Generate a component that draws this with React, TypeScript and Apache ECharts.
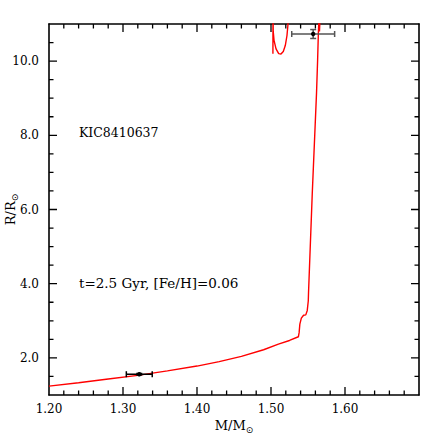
import React, { useEffect, useRef } from "react";
import * as echarts from "echarts";

// Evolutionary track (M/Msun, R/Rsun), in drawing order
const trackMass = [
  1.2, 1.24, 1.28, 1.32, 1.36, 1.4, 1.43, 1.46, 1.49, 1.51, 1.525, 1.537,
  1.538, 1.539, 1.541, 1.544, 1.547, 1.549, 1.5504, 1.5507, 1.5558, 1.5615, 1.563, 1.564, 1.5645, 1.565,
  1.5665, 1.5655, 1.5668,
  1.523, 1.523, 1.5216, 1.5193, 1.5166, 1.5135, 1.5104, 1.5068, 1.5041, 1.503, 1.5027,
  1.5026, 1.5028,
];
const trackRadius = [
  1.24, 1.33, 1.43, 1.53, 1.65, 1.78, 1.9, 2.04, 2.22, 2.37, 2.47, 2.57,
  2.68, 2.91, 3.07, 3.15, 3.16, 3.28, 3.54, 3.75, 6.45, 9.13, 10.03, 10.75, 11.0, 11.4,
  11.4, 10.8, 11.4,
  11.4, 11.0, 10.69, 10.42, 10.26, 10.19, 10.2, 10.33, 10.56, 10.8, 11.4,
  10.2, 11.4,
];

// Observations: [mass, radius, massErr, radiusErr]
const obsSeismic = [[1.557, 10.73, 0.029, 0.12]];
const obsModel = [[1.322, 1.56, 0.0175, 0.02]];

// Axis ranges, label steps and tick positions
const X_MIN = 1.2, X_MAX = 1.7, X_MAJOR = 0.1;
const Y_MIN = 1, Y_MAX = 11;
const Y_LABEL_MIN = 2, Y_LABEL_MAX = 10, Y_MAJOR = 2;
const xMajorTicks = [1.3, 1.4, 1.5, 1.6];
const xMinorTicks = [
  1.22, 1.24, 1.26, 1.28, 1.32, 1.34, 1.36, 1.38, 1.42, 1.44, 1.46, 1.48,
  1.52, 1.54, 1.56, 1.58, 1.62, 1.64, 1.66, 1.68,
];
const yMajorTicks = [2, 4, 6, 8, 10];
const yMinorTicks = [1.5, 2.5, 3, 3.5, 4.5, 5, 5.5, 6.5, 7, 7.5, 8.5, 9, 9.5, 10.5];

const starName = "KIC8410637";
const modelLabel = "t=2.5 Gyr, [Fe/H]=0.06";

const FONT = "DejaVu Serif";

// layout
const G_LEFT = 49, G_RIGHT = 24, G_TOP = 24, G_BOTTOM = 48, SIZE = 443;
const Y_UNIT_PX = (SIZE - G_TOP - G_BOTTOM) / (Y_MAX - Y_MIN);
const X_UNIT_PX = (SIZE - G_LEFT - G_RIGHT) / (X_MAX - X_MIN);
const MAJOR_LEN = 8, MINOR_LEN = 4.5;

function errRender(color: string) {
  return (params: any, api: any) => {
    const x = api.value(0), y = api.value(1), ex = api.value(2), ey = api.value(3);
    const c = api.coord([x, y]);
    const l = api.coord([x - ex, y]);
    const r = api.coord([x + ex, y]);
    const t = api.coord([x, y + ey]);
    const b = api.coord([x, y - ey]);
    const st = { stroke: color, lineWidth: 1.5 };
    const cap = 3;
    return {
      type: "group",
      children: [
        { type: "line", shape: { x1: l[0], y1: l[1], x2: r[0], y2: r[1] }, style: st },
        { type: "line", shape: { x1: l[0], y1: l[1] - cap, x2: l[0], y2: l[1] + cap }, style: st },
        { type: "line", shape: { x1: r[0], y1: r[1] - cap, x2: r[0], y2: r[1] + cap }, style: st },
        { type: "line", shape: { x1: t[0], y1: t[1], x2: b[0], y2: b[1] }, style: st },
        { type: "line", shape: { x1: t[0] - cap, y1: t[1], x2: t[0] + cap, y2: t[1] }, style: st },
        { type: "line", shape: { x1: b[0] - cap, y1: b[1], x2: b[0] + cap, y2: b[1] }, style: st },
        { type: "circle", shape: { cx: c[0], cy: c[1], r: 2.2 }, style: { fill: "#000" } },
      ],
    };
  };
}

// Tick marks as short segments of a line series (gaps between them), in data units
function buildTickSegments() {
  const gap = [NaN, NaN];
  const out: number[][] = [];
  const xTick = (v: number, px: number) => {
    const dy = px / Y_UNIT_PX;
    out.push([v, Y_MIN], [v, Y_MIN + dy], gap, [v, Y_MAX], [v, Y_MAX - dy], gap);
  };
  const yTick = (v: number, px: number) => {
    const dx = px / X_UNIT_PX;
    out.push([X_MIN, v], [X_MIN + dx, v], gap, [X_MAX, v], [X_MAX - dx, v], gap);
  };
  xMajorTicks.forEach((v) => xTick(v, MAJOR_LEN));
  xMinorTicks.forEach((v) => xTick(v, MINOR_LEN));
  yMajorTicks.forEach((v) => yTick(v, MAJOR_LEN));
  yMinorTicks.forEach((v) => yTick(v, MINOR_LEN));
  return out;
}

export default function App() {
  const ref = useRef<HTMLDivElement>(null);
  useEffect(() => {
    if (!ref.current) return;
    const chart = echarts.init(ref.current, null, { renderer: "svg" });
    const axisLine = { show: true, onZero: false, lineStyle: { color: "#000", width: 1.6 } };
    const labelStyle = { fontFamily: FONT, fontSize: 12, color: "#000" };
    const nameRich = {
      a: { fontFamily: FONT, fontSize: 13, color: "#000", lineHeight: 14, verticalAlign: "top" },
      s: { fontFamily: "DejaVu Sans", fontSize: 9, color: "#000", lineHeight: 10, verticalAlign: "top", padding: [6, 0, 0, 0] },
    };

    const xAxis: any[] = [
      {
        type: "value", gridIndex: 0, position: "bottom", min: X_MIN, max: X_MAX, interval: X_MAJOR,
        axisLine, splitLine: { show: false }, axisTick: { show: false },
        axisLabel: { show: true, margin: 8, formatter: (v: number) => (v > 1.65 ? "" : v.toFixed(2)), ...labelStyle },
        name: "{a|M/M}{s|⊙}", nameLocation: "middle", nameGap: 24, nameMoveOverlap: false,
        nameTextStyle: { rich: nameRich },
      },
      {
        type: "value", gridIndex: 0, position: "top", min: X_MIN, max: X_MAX, interval: X_MAJOR,
        axisLine, splitLine: { show: false }, axisTick: { show: false }, axisLabel: { show: false },
      },
      { type: "value", gridIndex: 1, min: X_MIN, max: X_MAX, show: false },
    ];
    const yAxis: any[] = [
      {
        type: "value", gridIndex: 0, position: "left", min: Y_MIN, max: Y_MAX,
        axisLine, splitLine: { show: false }, axisTick: { show: false }, axisLabel: { show: false },
      },
      {
        type: "value", gridIndex: 0, position: "right", min: Y_MIN, max: Y_MAX,
        axisLine, splitLine: { show: false }, axisTick: { show: false }, axisLabel: { show: false },
      },
      // same pixels as y in [2,10] of grid 0; carries the y labels and title
      {
        type: "value", gridIndex: 1, position: "left", min: Y_LABEL_MIN, max: Y_LABEL_MAX, interval: Y_MAJOR,
        axisLine: { show: false, onZero: false }, splitLine: { show: false }, axisTick: { show: false },
        axisLabel: { show: true, margin: 10, formatter: (v: number) => v.toFixed(1), ...labelStyle },
        name: "{a|R/R}{s|⊙}", nameLocation: "middle", nameGap: 31, nameRotate: 90, nameMoveOverlap: false,
        nameTextStyle: { rich: nameRich },
      },
    ];

    chart.setOption({
      animation: false,
      backgroundColor: "#fff",
      grid: [
        { left: G_LEFT, right: G_RIGHT, top: G_TOP, bottom: G_BOTTOM, containLabel: false, outerBoundsMode: "none" },
        {
          left: G_LEFT, right: G_RIGHT,
          top: G_TOP + Y_UNIT_PX * (Y_MAX - Y_LABEL_MAX),
          bottom: G_BOTTOM + Y_UNIT_PX * (Y_LABEL_MIN - Y_MIN),
          containLabel: false, outerBoundsMode: "none",
        },
      ],
      xAxis,
      yAxis,
      graphic: [
        { type: "text", left: 79, top: 126, style: { text: starName, font: `12.5px "${FONT}"`, fill: "#000" } },
        { type: "text", left: 79, top: 276, style: { text: modelLabel, font: `13.5px "${FONT}"`, fill: "#000" } },
      ],
      series: [
        {
          type: "line",
          xAxisIndex: 0,
          yAxisIndex: 0,
          data: trackMass.map((m, i) => [m, trackRadius[i]]),
          showSymbol: false,
          symbol: "none",
          clip: true,
          lineStyle: { color: "#ff0000", width: 1.4 },
          z: 2,
        },
        {
          type: "line",
          xAxisIndex: 0,
          yAxisIndex: 0,
          data: buildTickSegments(),
          showSymbol: false,
          symbol: "none",
          connectNulls: false,
          clip: false,
          silent: true,
          lineStyle: { color: "#000", width: 1.3 },
          z: 4,
        },
        {
          type: "custom",
          xAxisIndex: 0,
          yAxisIndex: 0,
          data: obsSeismic,
          renderItem: errRender("#555"),
          z: 3,
        },
        {
          type: "custom",
          xAxisIndex: 0,
          yAxisIndex: 0,
          data: obsModel,
          renderItem: errRender("#000"),
          z: 3,
        },
      ],
    });
    return () => chart.dispose();
  }, []);
  return (
    <div
      ref={ref}
      style={{ position: "fixed", left: 0, top: 0, width: SIZE, height: SIZE, background: "#fff" }}
    />
  );
}
